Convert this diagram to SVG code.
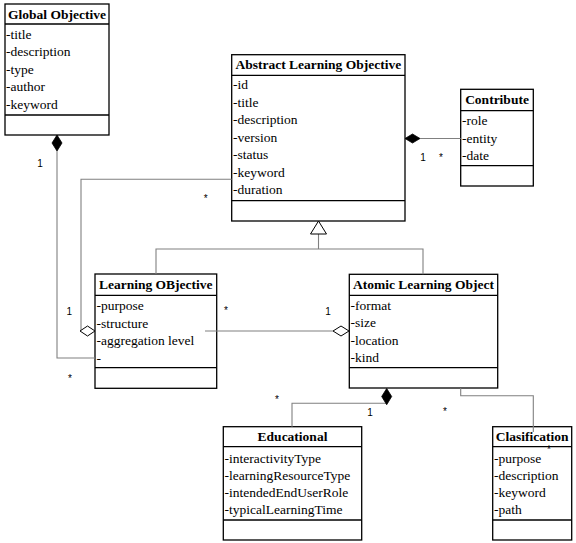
<svg xmlns="http://www.w3.org/2000/svg" width="576" height="543" viewBox="0 0 576 543">
<style>
.box{fill:#fff;stroke:#000;stroke-width:1.3}
.sep{stroke:#000;stroke-width:1.3}
.t{font-family:"Liberation Serif","Times New Roman",serif;font-size:13.5px;font-weight:bold;fill:#000;text-anchor:middle}
.a{font-family:"Liberation Serif","Times New Roman",serif;font-size:13.5px;fill:#000}
.c{fill:none;stroke:#808080;stroke-width:1.1}
.m{font-family:"Liberation Sans",Arial,sans-serif;font-size:10px;fill:#000;text-anchor:middle}
.fd{fill:#000;stroke:#000;stroke-width:0.8}
.hd{fill:#fff;stroke:#000;stroke-width:1}
</style>
<rect width="576" height="543" fill="#fff"/>
<g id="global-objective">
<rect class="box" x="5" y="4" width="104" height="131"/>
<line class="sep" x1="5" y1="24" x2="109" y2="24"/>
<line class="sep" x1="5" y1="115" x2="109" y2="115"/>
<text class="t" x="57" y="18.5">Global Objective</text>
<text class="a" x="6" y="38.5">-title</text>
<text class="a" x="6" y="56">-description</text>
<text class="a" x="6" y="73.5">-type</text>
<text class="a" x="6" y="91">-author</text>
<text class="a" x="6" y="108.5">-keyword</text>
</g>
<g id="abstract-learning-objective">
<rect class="box" x="231.7" y="54.7" width="173.3" height="166.3"/>
<line class="sep" x1="231.7" y1="75.3" x2="405" y2="75.3"/>
<line class="sep" x1="231.7" y1="200.7" x2="405" y2="200.7"/>
<text class="t" x="318.3" y="69.3">Abstract Learning Objective</text>
<text class="a" x="233" y="89">-id</text>
<text class="a" x="233" y="106.5">-title</text>
<text class="a" x="233" y="124">-description</text>
<text class="a" x="233" y="141.5">-version</text>
<text class="a" x="233" y="159">-status</text>
<text class="a" x="233" y="176.5">-keyword</text>
<text class="a" x="233" y="194">-duration</text>
</g>
<g id="contribute">
<rect class="box" x="460.7" y="89.3" width="72.6" height="96.7"/>
<line class="sep" x1="460.7" y1="110.7" x2="533.3" y2="110.7"/>
<line class="sep" x1="460.7" y1="165.7" x2="533.3" y2="165.7"/>
<text class="t" x="497" y="104">Contribute</text>
<text class="a" x="462" y="125">-role</text>
<text class="a" x="462" y="142.5">-entity</text>
<text class="a" x="462" y="160">-date</text>
</g>
<g id="learning-objective">
<rect class="box" x="95" y="274" width="121.7" height="114.3"/>
<line class="sep" x1="95" y1="295.3" x2="216.7" y2="295.3"/>
<line class="sep" x1="95" y1="367.7" x2="216.7" y2="367.7"/>
<text class="t" x="155.8" y="289.3">Learning OBjective</text>
<text class="a" x="96.5" y="310">-purpose</text>
<text class="a" x="96.5" y="327.5">-structure</text>
<text class="a" x="96.5" y="345">-aggregation level</text>
<text class="a" x="96.5" y="362.5">-</text>
</g>
<g id="atomic-learning-object">
<rect class="box" x="349.3" y="274.3" width="148.4" height="113.7"/>
<line class="sep" x1="349.3" y1="295.3" x2="497.7" y2="295.3"/>
<line class="sep" x1="349.3" y1="367.7" x2="497.7" y2="367.7"/>
<text class="t" x="423.5" y="289.3">Atomic Learning Object</text>
<text class="a" x="350.5" y="309.5">-format</text>
<text class="a" x="350.5" y="327">-size</text>
<text class="a" x="350.5" y="344.5">-location</text>
<text class="a" x="350.5" y="362">-kind</text>
</g>
<g id="educational">
<rect class="box" x="223.3" y="426.7" width="138.4" height="113.3"/>
<line class="sep" x1="223.3" y1="446.7" x2="361.7" y2="446.7"/>
<line class="sep" x1="223.3" y1="520" x2="361.7" y2="520"/>
<text class="t" x="292.5" y="441">Educational</text>
<text class="a" x="224.5" y="462.5">-interactivityType</text>
<text class="a" x="224.5" y="479.5">-learningResourceType</text>
<text class="a" x="224.5" y="496.5">-intendedEndUserRole</text>
<text class="a" x="224.5" y="513.5">-typicalLearningTime</text>
</g>
<g id="clasification">
<rect class="box" x="492.7" y="426.7" width="79" height="113.3"/>
<line class="sep" x1="492.7" y1="446.7" x2="571.7" y2="446.7"/>
<line class="sep" x1="492.7" y1="520" x2="571.7" y2="520"/>
<text class="t" x="532.2" y="441">Clasification</text>
<text class="a" x="494" y="462.5">-purpose</text>
<text class="a" x="494" y="479.5">-description</text>
<text class="a" x="494" y="496.5">-keyword</text>
<text class="a" x="494" y="513.5">-path</text>
</g>
<g id="connectors">
<polyline class="c" points="57,151 57,358 95,358"/>
<polyline class="c" points="231.7,179.3 81,179.3 81,331"/>
<line class="c" x1="205" y1="331" x2="333" y2="331"/>
<line class="c" x1="420" y1="138.5" x2="460.7" y2="138.5"/>
<line class="c" x1="318.5" y1="234" x2="318.5" y2="249"/>
<polyline class="c" points="156,274 156,249 423,249 423,274.3"/>
<polyline class="c" points="292,426.7 292,403.3 386.7,403.3"/>
<polyline class="c" points="460.7,388 460.7,395.7 533.3,395.7 533.3,432"/>
<polygon class="fd" points="57,135 62,143 57,151 52,143"/>
<polygon class="fd" points="405,138.5 412.5,134 420,138.5 412.5,143"/>
<polygon class="hd" points="80,331 87.5,326 95,331 87.5,336"/>
<polygon class="hd" points="333,331 341,326 349,331 341,336"/>
<polygon class="fd" points="386.7,388.5 391.7,396.5 386.7,404.7 381.7,396.5"/>
<polygon class="hd" points="318.5,221 326.5,234 310.5,234"/>
<text class="m" x="40" y="166.5">1</text>
<text class="m" x="205.7" y="201.5">*</text>
<text class="m" x="69.3" y="314.6">1</text>
<text class="m" x="70" y="382">*</text>
<text class="m" x="226" y="313.5">*</text>
<text class="m" x="328" y="314.6">1</text>
<text class="m" x="423" y="160.6">1</text>
<text class="m" x="441" y="160.5">*</text>
<text class="m" x="277" y="402.5">*</text>
<text class="m" x="370" y="416">1</text>
<text class="m" x="445" y="414.5">*</text>
<text class="m" x="549" y="452.5">*</text>
</g>
</svg>
